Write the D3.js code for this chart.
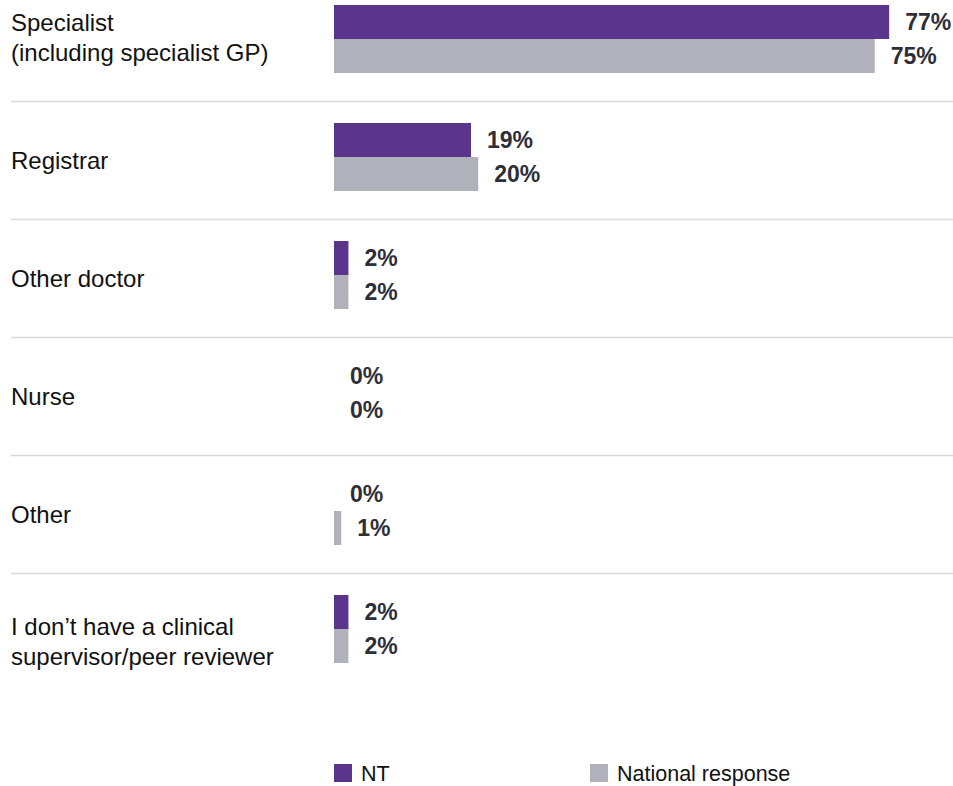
<!DOCTYPE html>
<html><head><meta charset="utf-8">
<script src="https://cdn.jsdelivr.net/npm/d3@7"></script>
<style>body{margin:0;background:#fff}svg{display:block;font-family:"Liberation Sans",Arial,sans-serif}</style>
</head><body><svg id="c" width="953" height="786"></svg>
<script>
const categories = [
  ["Specialist", "(including specialist GP)"],
  ["Registrar"],
  ["Other doctor"],
  ["Nurse"],
  ["Other"],
  ["I don\u2019t have a clinical", "supervisor/peer reviewer"]
];
const seriesNames = ["NT", "National response"];
const ntValues = [77, 19, 2, 0, 0, 2];
const nationalValues = [75, 20, 2, 0, 1, 2];
const colors = ["#5b358c", "#b1b1bc"];

const svg = d3.select("#c");
const x = d3.scaleLinear().domain([0, 100]).range([334, 334 + 721]);
const y = d3.scaleBand().domain(d3.range(categories.length)).range([-20, 688]).padding(0);
const barH = 34;

categories.forEach((cat, i) => {
  const cy = y(i) + y.bandwidth() / 2;
  const g = svg.append("g");
  if (i < categories.length - 1) {
    g.append("line").attr("x1", 11).attr("x2", 953)
      .attr("y1", cy + 62.5).attr("y2", cy + 62.5)
      .attr("stroke", "#d9d9d9").attr("stroke-width", 1.5);
  }
  const t = g.append("text").attr("x", 11).attr("font-size", 24).attr("fill", "#111");
  let offs;
  if (cat.length === 1) offs = [cy + 12];
  else if (i === 0) offs = [cy - 8, cy + 22];
  else offs = [cy + 6, cy + 36];
  cat.forEach((line, k) => t.append("tspan").attr("x", 11).attr("y", offs[k]).text(line));
  [ntValues[i], nationalValues[i]].forEach((v, s) => {
    const top = cy - barH + s * barH;
    if (v > 0) g.append("rect").attr("x", x(0)).attr("y", top)
      .attr("width", x(v) - x(0)).attr("height", barH).attr("fill", colors[s]);
    g.append("text").attr("x", x(v) + 16).attr("y", top + barH / 2 + 8)
      .attr("font-size", 23).attr("font-weight", "bold").attr("fill", "#2e2e38")
      .text(v + "%");
  });
});

const legendX = [334, 590];
seriesNames.forEach((n, s) => {
  svg.append("rect").attr("x", legendX[s]).attr("y", 764).attr("width", 18).attr("height", 18).attr("fill", colors[s]);
  svg.append("text").attr("x", legendX[s] + 27).attr("y", 781).attr("font-size", 21.5).attr("fill", "#111").text(n);
});
</script></body></html>
